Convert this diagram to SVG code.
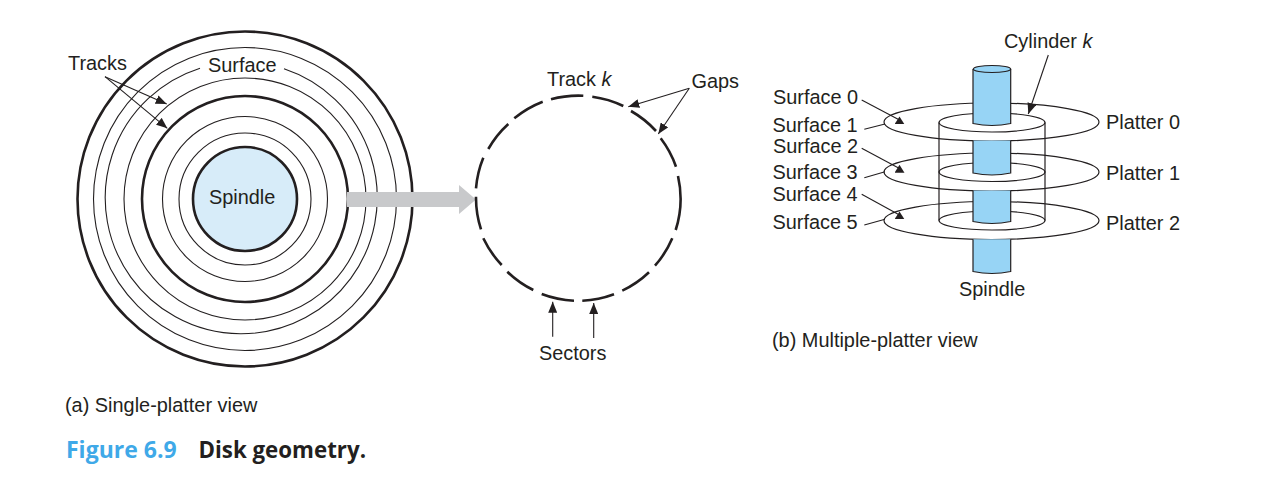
<svg xmlns="http://www.w3.org/2000/svg" width="1264" height="490" viewBox="0 0 1264 490">
<style>
text{font-family:"Liberation Sans",Arial,sans-serif;font-size:19.9px;fill:#231f20}
.it{font-style:italic}
.ring{fill:none;stroke:#231f20;stroke-width:1.1}
.thick{fill:none;stroke:#231f20;stroke-width:2.6}
.seg{fill:none;stroke:#231f20;stroke-width:2.6}
.leader{fill:none;stroke:#231f20;stroke-width:1.1;marker-end:url(#ah)}
.leader2{fill:none;stroke:#231f20;stroke-width:1.1;marker-end:url(#up)}
.plain{fill:none;stroke:#231f20;stroke-width:1.1}
.disc{fill:none;stroke:#231f20;stroke-width:1.2}
.sp{fill:#97d4f5;stroke:#231f20;stroke-width:1.2}
.cap{font-family:"Open Sans",Arial,sans-serif;font-weight:700;font-size:22.3px}
</style>
<defs>
<marker id="ah" markerUnits="userSpaceOnUse" viewBox="0 0 11 9" refX="11" refY="4.5" markerWidth="11" markerHeight="9" orient="auto"><path d="M0,0L11,4.5L0,9Z" fill="#231f20"/></marker>
<marker id="up" markerUnits="userSpaceOnUse" viewBox="0 0 10 8" refX="5" refY="3.6" markerWidth="10" markerHeight="8" orient="0"><path d="M5,0L10,8H0Z" fill="#231f20"/></marker>
</defs>
<rect width="1264" height="490" fill="#fff"/>
<g id="platter-view">
<circle class="thick" cx="245" cy="199" r="167.5"/>
<circle class="ring" cx="245" cy="199" r="151.5"/>
<path class="ring" d="M200,68.2A136,136 0 1 0 284,68.7"/>
<circle class="ring" cx="245" cy="199" r="121"/>
<circle class="thick" cx="245" cy="199" r="103"/>
<circle class="ring" cx="245" cy="199" r="82.5"/>
<circle class="ring" cx="245" cy="199" r="66"/>
<circle cx="245" cy="199" r="52" fill="#d7ecf9" stroke="#231f20" stroke-width="2.6"/>
<text x="209" y="204">Spindle</text>
<text x="208" y="71.7">Surface</text>
<text x="68" y="70">Tracks</text>
</g>
<g id="transfer-arrow">
<path d="M347,192H459V185L476,199.5L459,214V207H347Z" fill="#c8c9cb"/>
</g>
<g id="track-k">
<path class="seg" d="M551,99.3A102.5,102.5 0 0 1 583.3,95.7M592.3,96.7A102.5,102.5 0 0 1 623.3,106M631,111A102.5,102.5 0 0 1 656,131M660.7,138.3A102.5,102.5 0 0 1 676,166.7M678,176A102.5,102.5 0 0 1 675.7,230M672.3,238.3A102.5,102.5 0 0 1 655,265.7M649,272.3A102.5,102.5 0 0 1 622.3,290.7M614,294.3A102.5,102.5 0 0 1 582.3,300.7M574,300.7A102.5,102.5 0 0 1 541.7,294M533.3,290A102.5,102.5 0 0 1 507.3,271.7M501.7,265A102.5,102.5 0 0 1 483.3,238.3M481,229.3A102.5,102.5 0 0 1 476,196.7M476,188.3A102.5,102.5 0 0 1 483.3,157.7M488.3,149A102.5,102.5 0 0 1 508.3,124M514.3,118.3A102.5,102.5 0 0 1 542.7,101.7"/>
<text x="547" y="86">Track <tspan class="it">k</tspan></text>
<text x="691.5" y="88">Gaps</text>
<text x="539" y="360">Sectors</text>
</g>
<g id="platter-0">
<ellipse class="disc" cx="991.5" cy="122" rx="107.5" ry="19"/>
<ellipse class="disc" cx="992" cy="122.5" rx="53" ry="9.5"/>
<text x="1106" y="128.7">Platter 0</text>
</g>
<g id="platter-1">
<ellipse class="disc" cx="991.5" cy="172" rx="107.5" ry="19"/>
<ellipse class="disc" cx="992" cy="172" rx="53" ry="9.5"/>
<text x="1106" y="179.7">Platter 1</text>
</g>
<g id="platter-2">
<ellipse class="disc" cx="991.5" cy="220.5" rx="107.5" ry="19"/>
<ellipse class="disc" cx="992" cy="220.5" rx="53" ry="9.5"/>
<text x="1106" y="230">Platter 2</text>
</g>
<g id="cylinder-k">
<path class="disc" d="M939,122.5V220.5M1045,122.5V220.5"/>
<text x="1004" y="48">Cylinder <tspan class="it">k</tspan></text>
</g>
<g id="spindle">
<path class="sp" d="M973,69V123.5Q992,127.5 1010.7,123.5V69"/>
<ellipse class="sp" cx="992" cy="69" rx="18.7" ry="3.5"/>
<path class="sp" d="M973,140.6V173Q992,177 1010.7,173V140.6"/>
<path class="sp" d="M973,190.6V221.5Q992,225.5 1010.7,221.5V190.6"/>
<path class="sp" d="M973,239.2V271.5Q992,275.5 1010.7,271.5V239.2"/>
<text x="959" y="296">Spindle</text>
</g>
<g id="surface-labels">
<text x="773" y="104">Surface 0</text>
<text x="772.5" y="131.5">Surface 1</text>
<text x="773" y="152.5">Surface 2</text>
<text x="772.5" y="178.5">Surface 3</text>
<text x="772.5" y="200.7">Surface 4</text>
<text x="772.5" y="228.5">Surface 5</text>
</g>
<g id="connectors">
<path class="leader" d="M105,76.7L166.7,104"/>
<path class="leader" d="M105,76.7L167.3,128.3"/>
<path class="leader" d="M689.3,88.3L628.3,106.7"/>
<path class="leader" d="M689.3,88.3L658.3,134"/>
<path class="leader" d="M552.7,336.7V301.7"/>
<path class="leader" d="M593.7,338V303"/>
<path class="leader" d="M1048.3,55L1028.3,114"/>
<path class="leader2" d="M861.7,100L899.5,120"/>
<path class="leader2" d="M861.7,148.3L899.5,168.4"/>
<path class="leader2" d="M861.7,194.3L899.5,215"/>
<path class="plain" d="M864.3,129.3L885,124M864.3,177.7L885,171.7M864.3,225L885,219.3"/>
</g>
<g id="captions">
<text x="65" y="412">(a) Single-platter view</text>
<text x="772" y="347">(b) Multiple-platter view</text>
<text class="cap" x="66" y="458" style="fill:#3fa9e8;font-size:23px">Figure 6.9</text>
<text class="cap" x="198.5" y="458">Disk geometry.</text>
</g>
</svg>
